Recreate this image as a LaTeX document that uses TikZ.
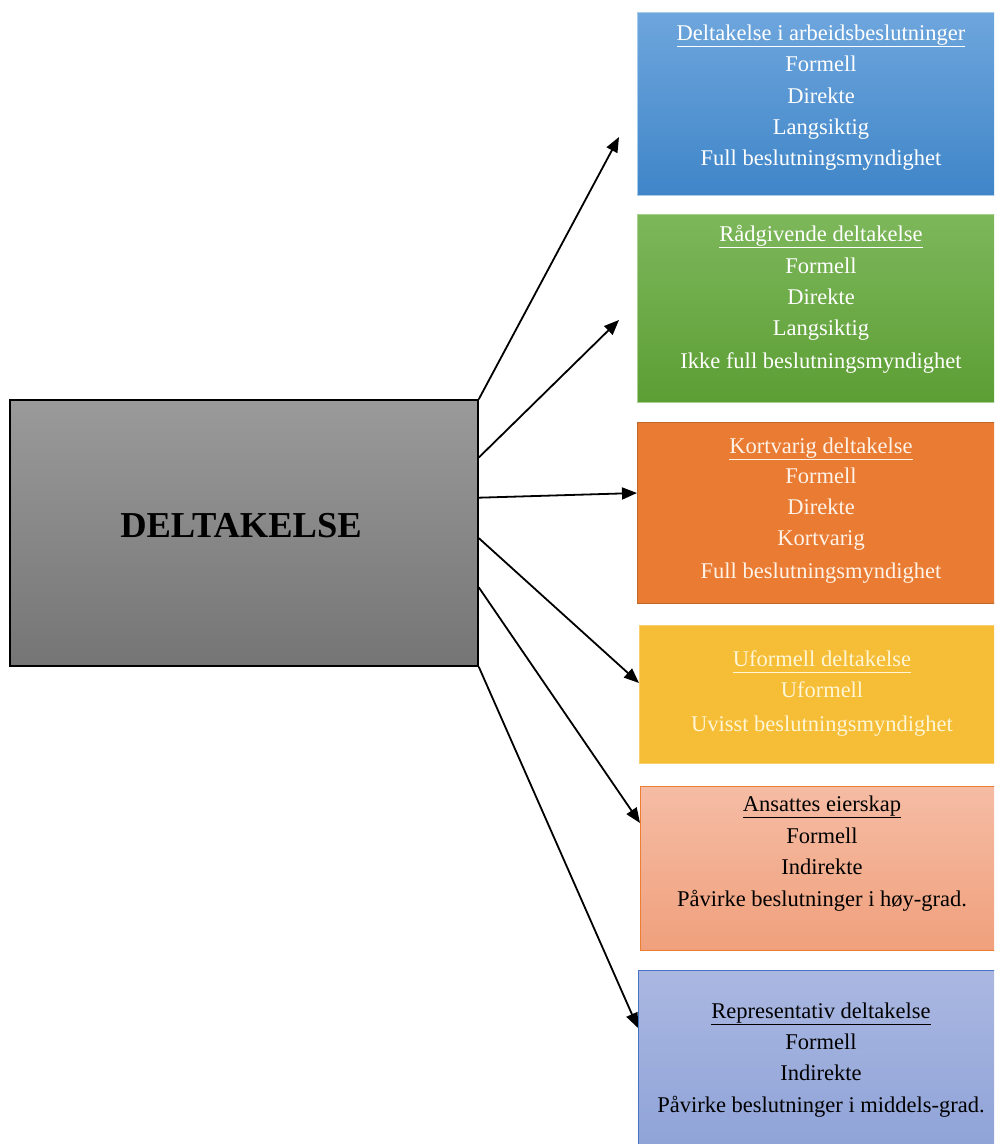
\documentclass[tikz,border=0pt]{standalone}
\usepackage{fontspec}
\setmainfont{Liberation Serif}
\usetikzlibrary{arrows.meta,calc,shadings}
\definecolor{bluetop}{HTML}{6EA6DD}
\definecolor{bluebot}{HTML}{3F85C8}
\definecolor{blueedge}{HTML}{A9CBEA}
\definecolor{greentop}{HTML}{7DB75B}
\definecolor{greenbot}{HTML}{5C9E34}
\definecolor{greenedge}{HTML}{A8D08D}
\definecolor{orangefill}{HTML}{E97B33}
\definecolor{orangeedge}{HTML}{C0682A}
\definecolor{orangetext}{HTML}{FFF3E8}
\definecolor{yellowfill}{HTML}{F6BD36}
\definecolor{yellowedge}{HTML}{F9CF6E}
\definecolor{yellowtext}{HTML}{FFF6D5}
\definecolor{salmontop}{HTML}{F5BCA4}
\definecolor{salmonbot}{HTML}{F0A07C}
\definecolor{salmonedge}{HTML}{ED7D31}
\definecolor{lavtop}{HTML}{AAB7E1}
\definecolor{lavbot}{HTML}{8CA1D7}
\definecolor{lavedge}{HTML}{4472C4}
\definecolor{graytop}{HTML}{9A9A9A}
\definecolor{graybot}{HTML}{757575}
\newcommand\boxtitle[1]{\setbox0\hbox{#1\vphantom{gp}}\leavevmode\rlap{\vrule height -\dimexpr\dp0+1pt\relax depth \dimexpr\dp0+2.4pt\relax width \wd0}\box0}
\begin{document}
\begin{tikzpicture}[x=1pt,y=-1pt,
  box/.style={rectangle, anchor=north west, minimum width=380pt, inner sep=0pt, line width=1.2pt},
  txtline/.style={anchor=base, font=\fontsize{22.5}{27}\selectfont, inner sep=0pt},
  conn/.style={-{Triangle[length=15pt,width=12pt]}, line width=1.8pt, black},
]
\useasboundingbox (0,0) rectangle (994,1144);
\clip (0,0) rectangle (994,1144);

% central box
\node[rectangle, draw=black, line width=1.5pt, inner sep=0pt,
      minimum width=468pt, minimum height=266pt,
      top color=graytop, bottom color=graybot] (main) at (244,533) {};
\node[font=\bfseries\fontsize{36.5}{40}\selectfont] (maintxt) at (241,526) {DELTAKELSE};

% right boxes
\node[box, minimum height=183pt, draw=blueedge, top color=bluetop, bottom color=bluebot] (b1) at (637,12) {};
\node[box, minimum height=188pt, draw=greenedge, top color=greentop, bottom color=greenbot] (b2) at (637,214) {};
\node[box, minimum height=181pt, draw=orangeedge, fill=orangefill] (b3) at (637,422) {};
\node[box, minimum height=138pt, draw=yellowedge, fill=yellowfill] (b4) at (639,625) {};
\node[box, minimum height=164pt, draw=salmonedge, top color=salmontop, bottom color=salmonbot] (b5) at (640,786) {};
\node[box, minimum height=200pt, draw=lavedge, top color=lavtop, bottom color=lavbot] (b6) at (638,970) {};

% box 1 text
\node[txtline, white] (b1a) at (821,40) {\boxtitle{Deltakelse i arbeidsbeslutninger}};
\node[txtline, white] (b1b) at (821,71) {Formell};
\node[txtline, white] (b1c) at (821,103) {Direkte};
\node[txtline, white] (b1d) at (821,134) {Langsiktig};
\node[txtline, white] (b1e) at (821,165) {Full beslutningsmyndighet};

% box 2 text
\node[txtline, white] (b2a) at (821,241) {\boxtitle{Rådgivende deltakelse}};
\node[txtline, white] (b2b) at (821,273) {Formell};
\node[txtline, white] (b2c) at (821,304) {Direkte};
\node[txtline, white] (b2d) at (821,335) {Langsiktig};
\node[txtline, white] (b2e) at (821,368) {Ikke full beslutningsmyndighet};

% box 3 text
\node[txtline, orangetext] (b3a) at (821,453) {\boxtitle{Kortvarig deltakelse}};
\node[txtline, orangetext] (b3b) at (821,483) {Formell};
\node[txtline, orangetext] (b3c) at (821,514) {Direkte};
\node[txtline, orangetext] (b3d) at (821,545) {Kortvarig};
\node[txtline, orangetext] (b3e) at (821,578) {Full beslutningsmyndighet};

% box 4 text
\node[txtline, yellowtext] (b4a) at (822,666) {\boxtitle{Uformell deltakelse}};
\node[txtline, yellowtext] (b4b) at (822,697) {Uformell};
\node[txtline, yellowtext] (b4c) at (822,731) {Uvisst beslutningsmyndighet};

% box 5 text
\node[txtline, black] (b5a) at (822,811) {\boxtitle{Ansattes eierskap}};
\node[txtline, black] (b5b) at (822,843) {Formell};
\node[txtline, black] (b5c) at (822,874) {Indirekte};
\node[txtline, black] (b5d) at (822,906) {Påvirke beslutninger i høy-grad.};

% box 6 text
\node[txtline, black] (b6a) at (821,1018) {\boxtitle{Representativ deltakelse}};
\node[txtline, black] (b6b) at (821,1049) {Formell};
\node[txtline, black] (b6c) at (821,1080) {Indirekte};
\node[txtline, black] (b6d) at (821,1112) {Påvirke beslutninger i middels-grad.};

% arrows
\coordinate (e1) at (619,137);
\coordinate (e2) at (619,320);
\draw[conn] (main.north east) -- (e1);
\draw[conn] ($(main.north east)!0.218!(main.south east)$) -- (e2);
\draw[conn] ($(main.north east)!0.368!(main.south east)$) -- ($(b3.north west)+(0,71)$);
\draw[conn] ($(main.north east)!0.519!(main.south east)$) -- ($(b4.north west)+(0,58)$);
\draw[conn] ($(main.north east)!0.703!(main.south east)$) -- ($(b5.north west)+(0,37)$);
\draw[conn] (main.south east) -- ($(b6.north west)+(0,58)$);
\end{tikzpicture}
\end{document}
